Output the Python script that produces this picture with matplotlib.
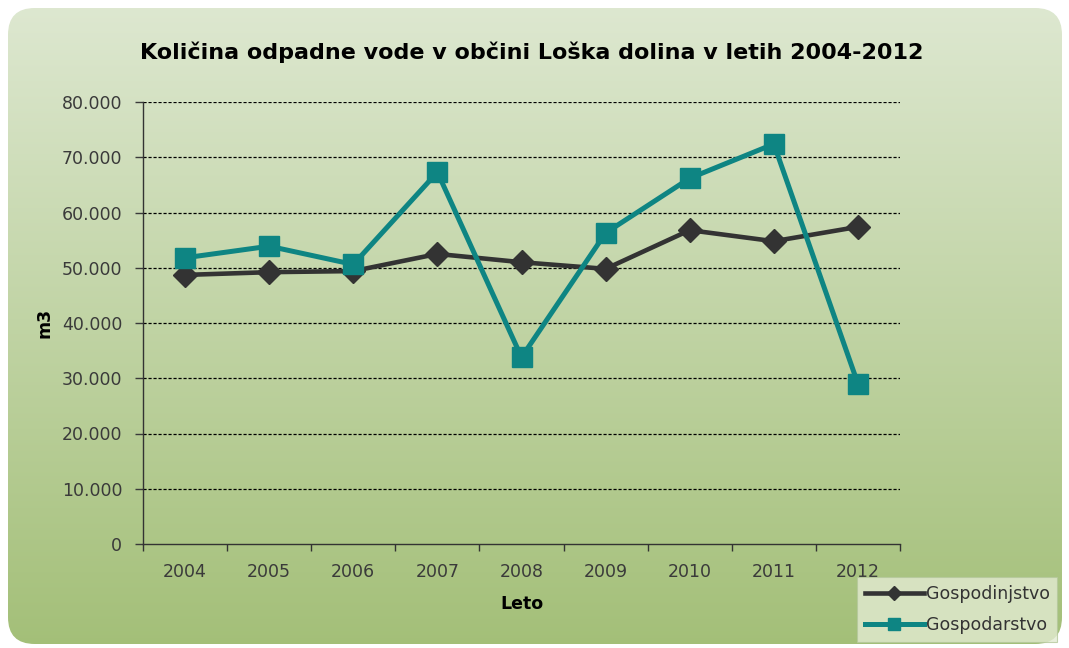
import matplotlib
matplotlib.use("Agg")
import matplotlib.pyplot as plt
import numpy as np
from matplotlib.patches import FancyBboxPatch
from matplotlib.ticker import FuncFormatter, MultipleLocator, FixedLocator

plt.rcParams['font.family'] = ['DejaVu Sans']

years = ['2004', '2005', '2006', '2007', '2008', '2009', '2010', '2011', '2012']
gospodinjstvo = [48700, 49200, 49400, 52500, 51000, 49800, 56800, 54800, 57400]
gospodarstvo = [51800, 53900, 50600, 67300, 33800, 56300, 66200, 72400, 29000]

title = "Količina odpadne vode v občini Loška dolina v letih 2004-2012"

fig = plt.figure(figsize=(10.69, 6.48), dpi=100)
fig.patch.set_facecolor('white')

# rounded green background with vertical gradient
bg = FancyBboxPatch((8 / 1069, 4 / 648), 1054 / 1069, 636 / 648,
                    boxstyle="round,pad=0,rounding_size=0.025",
                    transform=fig.transFigure, facecolor='none', edgecolor='none',
                    mutation_aspect=1069 / 648)
fig.patches.append(bg)
bgax = fig.add_axes([0, 0, 1, 1], zorder=0)
bgax.axis('off')
top = np.array([0.87, 0.91, 0.82])
bot = np.array([0.64, 0.75, 0.47])
t = np.linspace(0, 1, 256)[:, None]
grad = top[None, :] * (1 - t) + bot[None, :] * t
img = bgax.imshow(grad[:, None, :].repeat(2, axis=1), extent=[0, 1, 0, 1],
                  aspect='auto', transform=fig.transFigure)
img.set_clip_path(bg)

ax = fig.add_axes([143 / 1069, 1 - 544 / 648, (900 - 143) / 1069, (544 - 102) / 648], zorder=1)
ax.patch.set_alpha(0)

x = np.arange(len(years))
ax.plot(x, gospodinjstvo, color='#333333', lw=3.3, marker='D', markersize=12,
        label='Gospodinjstvo', zorder=3)
ax.plot(x, gospodarstvo, color='#0e8583', lw=3.6, marker='s', markersize=14,
        label='Gospodarstvo', zorder=4)

ax.set_xlim(-0.5, len(years) - 0.5)
ax.set_ylim(0, 80000)
ax.yaxis.set_major_locator(MultipleLocator(10000))
ax.yaxis.set_major_formatter(FuncFormatter(lambda v, p: '0' if v == 0 else f'{int(v):,}'.replace(',', '.')))
ax.set_xticks(x)
ax.set_xticklabels(years)
ax.xaxis.set_minor_locator(FixedLocator(np.arange(-0.5, len(years), 1.0)))
ax.tick_params(axis='x', which='major', length=0, pad=14, labelsize=12.5, colors='#3a3a3a')
ax.tick_params(axis='x', which='minor', length=5, width=1, direction='out', color='#333333')
ax.tick_params(axis='y', length=6, width=1, direction='out', labelsize=12.5, pad=9,
               colors='#3a3a3a')

for v in range(10000, 80001, 10000):
    ax.axhline(v, color='black', lw=0.9, ls=(0, (2.5, 1.5)), zorder=1)

for s in ['top', 'right']:
    ax.spines[s].set_visible(False)
for s in ['left', 'bottom']:
    ax.spines[s].set_color('#333333')
    ax.spines[s].set_linewidth(1)

ax.set_xlabel('Leto', fontsize=12.5, fontweight='bold', labelpad=10)
ax.set_ylabel('m3', fontsize=12.5, fontweight='bold', labelpad=6)
fig.text(532 / 1069, 1 - 52 / 648, title, ha='center', va='center',
         fontsize=16, fontweight='bold', color='black')

leg = ax.legend(loc='upper left', bbox_to_anchor=(857 / 1069, 1 - 577 / 648),
                bbox_transform=fig.transFigure, frameon=True, fancybox=False,
                fontsize=12.5, handlelength=3.4, handletextpad=0.1,
                labelspacing=0.75, borderpad=0.45, borderaxespad=0,
                markerscale=0.6)
leg.get_frame().set_facecolor('#e3ebd2')
leg.get_frame().set_edgecolor('#b5c89c')
leg.get_frame().set_linewidth(0.8)
for txt in leg.get_texts():
    txt.set_color('#333333')

fig.savefig('out.png', dpi=100)
